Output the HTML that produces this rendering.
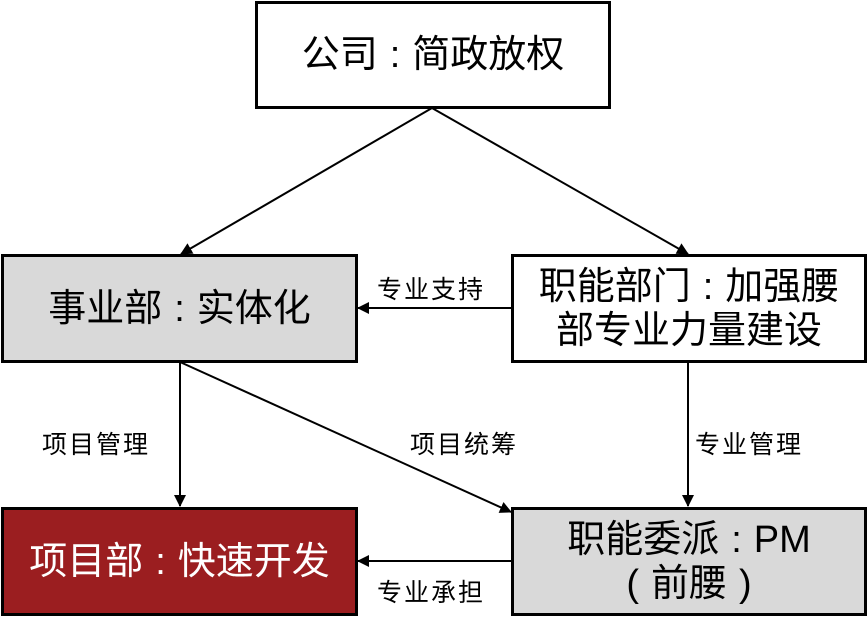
<!DOCTYPE html>
<html><head><meta charset="utf-8"><style>
body{margin:0;width:868px;height:629px;background:#fff;position:relative;overflow:hidden;font-family:"Liberation Sans","Noto Sans CJK SC",sans-serif;}
.b{position:absolute;box-sizing:border-box;border:3px solid #000;display:flex;align-items:center;justify-content:center;text-align:center;font-size:38px;line-height:44px;color:#000;}
.c{display:inline-block;margin:0 12px;}
.l{position:absolute;font-size:25px;line-height:30px;color:#000;white-space:nowrap;letter-spacing:2px;}
svg{position:absolute;left:0;top:0;}
</style></head><body>
<svg width="868" height="629">
<defs><marker id="a" markerWidth="12" markerHeight="12" refX="11" refY="6" orient="auto" markerUnits="userSpaceOnUse"><path d="M0,0 L12,6 L0,12 z" fill="#000"/></marker></defs>
<g stroke="#000" stroke-width="2" fill="none">
<line x1="432" y1="108" x2="181" y2="254" marker-end="url(#a)"/>
<line x1="432" y1="108" x2="688" y2="254" marker-end="url(#a)"/>
<line x1="512" y1="308" x2="358" y2="308" marker-end="url(#a)"/>
<line x1="180" y1="362" x2="180" y2="506" marker-end="url(#a)"/>
<line x1="180" y1="362" x2="511" y2="512" marker-end="url(#a)"/>
<line x1="688" y1="362" x2="688" y2="506" marker-end="url(#a)"/>
<line x1="512" y1="561" x2="358" y2="561" marker-end="url(#a)"/>
</g></svg>
<div class="b" style="left:255px;top:1px;width:356px;height:108px;background:#fff"><div>公司<span class="c">:</span>简政放权</div></div>
<div class="b" style="left:1px;top:254px;width:357px;height:109px;background:#d9d9d9"><div>事业部<span class="c">:</span>实体化</div></div>
<div class="b" style="left:511px;top:254px;width:356px;height:109px;background:#fff"><div>职能部门<span class="c">:</span>加强腰<br>部专业力量建设</div></div>
<div class="b" style="left:1px;top:507px;width:357px;height:109px;background:#9b1e20;color:#fff"><div>项目部<span class="c">:</span>快速开发</div></div>
<div class="b" style="left:511px;top:507px;width:356px;height:109px;background:#d9d9d9"><div>职能委派<span class="c">:</span>PM<br>(<span style="margin:0 12px">前腰</span>)</div></div>
<div class="l" style="left:377px;top:275px">专业支持</div>
<div class="l" style="left:42px;top:430px">项目管理</div>
<div class="l" style="left:410px;top:430px">项目统筹</div>
<div class="l" style="left:695px;top:430px">专业管理</div>
<div class="l" style="left:377px;top:578px">专业承担</div>
</body></html>
